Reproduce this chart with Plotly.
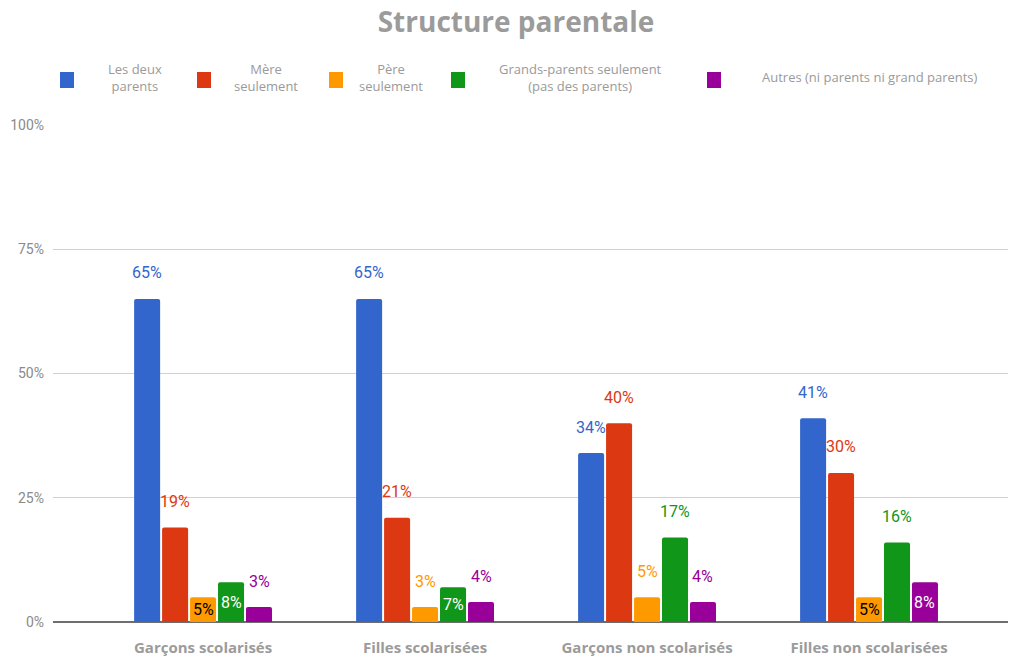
import plotly.graph_objects as go

# Categories and shares (percent) for each household structure
categories = ["Garçons scolarisés", "Filles scolarisées",
              "Garçons non scolarisés", "Filles non scolarisées"]
series_names = ["Les deux parents", "Mère seulement", "Père seulement",
                "Grands-parents seulement (pas des parents)",
                "Autres (ni parents ni grand parents)"]
les_deux_parents = [65, 65, 34, 41]
mere_seulement = [19, 21, 40, 30]
pere_seulement = [5, 3, 5, 5]
grands_parents = [8, 7, 17, 16]
autres = [3, 4, 4, 8]
y_ticks = [0, 25, 50, 75, 100]

values = [les_deux_parents, mere_seulement, pere_seulement, grands_parents, autres]
colors = ["#3366cc", "#dc3912", "#ff9900", "#109618", "#990099"]
inside_text_colors = ["#ffffff", "#ffffff", "#000000", "#ffffff", "#ffffff"]

# Legend labels as shown above the chart (two-line entries)
legend_labels = ["Les deux<br>parents", "Mère<br>seulement", "Père<br>seulement",
                 "Grands-parents seulement<br>(pas des parents)",
                 "Autres (ni parents ni grand parents)"]

# Bars whose value label sits inside the bar: (series index, category index)
inside_labels = {(2, 0), (3, 0), (3, 1), (2, 3), (4, 3)}

BARGAP = 0.37
N = len(values)
slot = (1 - BARGAP) / N
xpos = list(range(len(categories)))

fig = go.Figure()
for s, (name, vals, col) in enumerate(zip(series_names, values, colors)):
    fig.add_trace(go.Bar(
        x=xpos, y=vals, name=name,
        marker=dict(color=col, cornerradius=2, line=dict(width=0)),
        showlegend=False,
        hovertemplate="%{y}%<extra>" + name + "</extra>",
    ))

annotations = []
for s, vals in enumerate(values):
    for c, v in enumerate(vals):
        xc = c + (s - (N - 1) / 2) * slot
        if (s, c) in inside_labels:
            annotations.append(dict(
                x=xc, y=v / 2, xref="x", yref="y", text=f"{v}%",
                showarrow=False, yanchor="middle", xanchor="center",
                font=dict(family="Roboto", size=16, color=inside_text_colors[s]),
            ))
        else:
            annotations.append(dict(
                x=xc, y=v, xref="x", yref="y", text=f"{v}%",
                showarrow=False, yanchor="middle", xanchor="center", yshift=26,
                font=dict(family="Roboto", size=16, color=colors[s]),
            ))

# Custom legend row: coloured squares with centred labels
legend_marker_x = [60, 197, 329, 451, 707]
legend_text_x = [135, 266, 391, 580, 870]
shapes = []
for s in range(N):
    shapes.append(dict(
        type="rect", xref="paper", yref="paper",
        x0=(legend_marker_x[s] - 53) / 955, x1=(legend_marker_x[s] + 14 - 53) / 955,
        y0=(622 - 88) / 497, y1=(622 - 72) / 497,
        fillcolor=colors[s], line=dict(width=0), layer="above",
    ))
    annotations.append(dict(
        x=(legend_text_x[s] - 53) / 955, y=(622 - 77) / 497,
        xref="paper", yref="paper", text=legend_labels[s], showarrow=False,
        xanchor="center", yanchor="middle", align="center",
        font=dict(family="Open Sans", size=13, color="#9a9a9a"),
    ))

fig.update_layout(
    width=1010, height=658,
    margin=dict(l=53, r=2, t=125, b=36),
    paper_bgcolor="white", plot_bgcolor="white",
    barmode="group", bargap=BARGAP, bargroupgap=0.07,
    title=dict(
        text="<b>Structure parentale</b>",
        x=516 / 1010, xref="container", xanchor="center",
        y=1 - 22 / 658, yref="container", yanchor="middle",
        font=dict(family="Open Sans", size=28, color="#9b9b9b"),
    ),
    xaxis=dict(
        tickmode="array", tickvals=xpos, ticktext=categories,
        range=[-0.676, 3.626], showgrid=False, zeroline=False, showline=False,
        ticks="", ticklabelstandoff=15,
        tickfont=dict(family="Open Sans", size=15, color="#9b9b9b", weight="bold"),
    ),
    yaxis=dict(
        range=[0, 100], tickmode="array", tickvals=y_ticks,
        ticktext=[f"{t}%" for t in y_ticks],
        showgrid=True, gridcolor="#d0d0d0", gridwidth=1,
        zeroline=True, zerolinecolor="#6e6e6e", zerolinewidth=2,
        showline=False, ticks="", ticklabelstandoff=8,
        tickfont=dict(family="Roboto", size=14, color="#8a8a8a"),
    ),
    annotations=annotations,
    shapes=shapes,
    showlegend=False,
)

fig.write_html("out.html")
